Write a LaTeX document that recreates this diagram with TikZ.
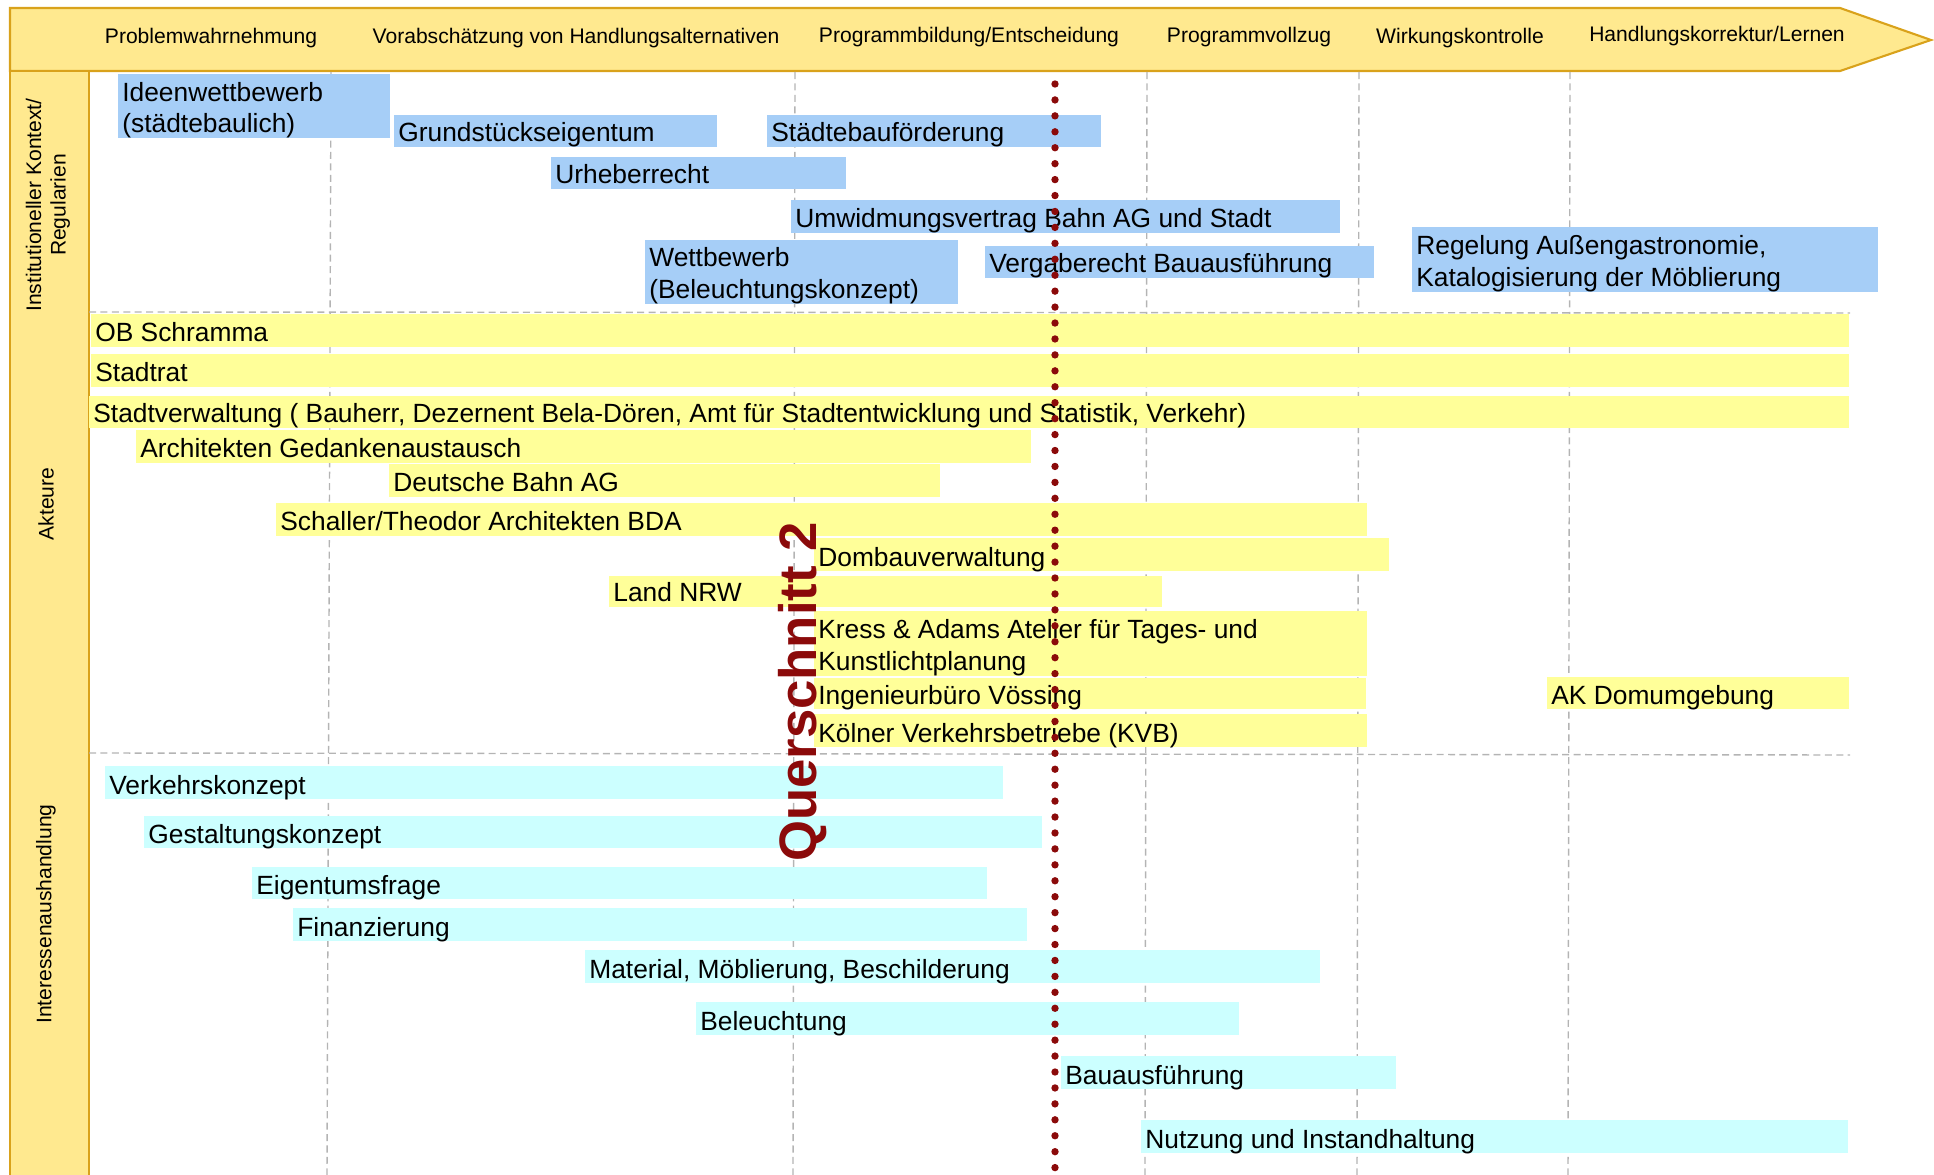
\documentclass[tikz,border=0pt]{standalone}
\usepackage{fontspec}
\setmainfont{Liberation Sans}
\usepackage{xcolor}
\usepackage{tikz}
\usetikzlibrary{positioning}

\definecolor{kopfgelb}{HTML}{FFE98F}
\definecolor{kopfrand}{HTML}{D9A21B}
\definecolor{regelblau}{HTML}{A6CEF7}
\definecolor{akteurgelb}{HTML}{FFFF99}
\definecolor{themacyan}{HTML}{CCFFFF}
\definecolor{schnittrot}{HTML}{8B0A0A}
\definecolor{rastergrau}{HTML}{B4B4B4}

\tikzset{
  kopf/.style={fill=kopfgelb, draw=kopfrand, line width=1.2pt},
  raster/.style={draw=rastergrau, line width=0.8pt, dash pattern=on 4pt off 2.5pt},
  phase/.style={font=\fontsize{12}{14}\selectfont, anchor=base, inner sep=0pt},
  ebene/.style={font=\fontsize{12}{14}\selectfont, rotate=90, align=center, inner sep=0pt},
  balkentext/.style={font=\fontsize{15}{18}\selectfont, inner sep=0pt, align=left},
  regel/.style={fill=regelblau},
  akteur/.style={fill=akteurgelb},
  thema/.style={fill=themacyan}
}

% one bar: name, style, x1, y1, x2, y2, text
\newcommand{\balken}[7]{%
  \fill[#2] (#3,#4) rectangle (#5,#6);
  \node[balkentext, anchor=base west] (#1) at ({#3+4},{#6-5}) {#7};}
% bar with two lines of text
\newcommand{\balkenzwei}[7]{%
  \fill[#2] (#3,#4) rectangle (#5,#6);
  \node[balkentext, anchor=west] (#1) at ({#3+4},{(#4+#6)/2+4}) {#7};}

\begin{document}
\begin{tikzpicture}[x=0.02cm, y=-0.02cm]
        \useasboundingbox (0,0) rectangle (1934,1175);

        % phases
        \draw[kopf] (10,8) -- (1840,8) -- (1931,40) -- (1840,71) -- (10,71) -- cycle;
        \draw[kopf] (10,71) rectangle (89,1190);

        \node[phase] (p1) at (211,44) {Problemwahrnehmung};
        \node[phase] (p2) at (576,44) {Vorabschätzung von Handlungsalternativen};
        \node[phase] (p3) at (969,43) {Programmbildung/Entscheidung};
        \node[phase] (p4) at (1249,43) {Programmvollzug};
        \node[phase] (p5) at (1460,44) {Wirkungskontrolle};
        \node[phase] (p6) at (1717,42) {Handlungskorrektur/Lernen};

        \node[ebene] (e1) at (48,205) {Institutioneller Kontext/\\Regularien};
        \node[ebene] (e2) at (46,504) {Akteure};
        \node[ebene] (e3) at (46,914) {Interessenaushandlung};

        % grid
        \draw[raster] (331,72) -- (327,1175);
        \draw[raster] (795,72) -- (793,1175);
        \draw[raster] (1147,72) -- (1145,1175);
        \draw[raster] (1359,72) -- (1357,1175);
        \draw[raster] (1570,72) -- (1568,1175);
        \draw[raster] (89,312) -- (1850,313);
        \draw[raster] (89,753) -- (1850,755);

        % Regularien
        \balkenzwei{ideen}{regel}{118}{74}{390}{138}{Ideenwettbewerb\\(städtebaulich)}
        \balken{grund}{regel}{394}{115}{717}{147}{Grundstückseigentum}
        \balken{foerder}{regel}{767}{115}{1101}{147}{Städtebauförderung}
        \balken{urheber}{regel}{551}{157}{846}{189}{Urheberrecht}
        \balken{umwidmung}{regel}{791}{200}{1340}{233}{Umwidmungsvertrag Bahn AG und Stadt}
        \balkenzwei{wettbewerb}{regel}{645}{240}{958}{304}{Wettbewerb\\(Beleuchtungskonzept)}
        \balken{vergabe}{regel}{985}{246}{1374}{278}{Vergaberecht Bauausführung}
        \balkenzwei{gastro}{regel}{1412}{227}{1878}{292}{Regelung Außengastronomie,\\Katalogisierung der Möblierung}

        % Akteure
        \balken{ob}{akteur}{91}{314}{1849}{347}{OB Schramma}
        \balken{stadtrat}{akteur}{91}{354}{1849}{387}{Stadtrat}
        \balken{verwaltung}{akteur}{89}{396}{1849}{428}{Stadtverwaltung ( Bauherr, Dezernent Bela-Dören, Amt für Stadtentwicklung und Statistik, Verkehr)}
        \balken{architekten}{akteur}{136}{430}{1031}{463}{Architekten Gedankenaustausch}
        \balken{bahn}{akteur}{389}{464}{940}{497}{Deutsche Bahn AG}
        \balken{schaller}{akteur}{276}{503}{1367}{536}{Schaller/Theodor Architekten BDA}
        \balken{dombau}{akteur}{814}{538}{1389}{571}{Dombauverwaltung}
        \balken{land}{akteur}{609}{576}{1162}{607}{Land NRW}
        \balkenzwei{kress}{akteur}{814}{611}{1367}{676}{Kress \& Adams Atelier für Tages- und\\Kunstlichtplanung}
        \balken{voessing}{akteur}{814}{678}{1366}{709}{Ingenieurbüro Vössing}
        \balken{akdom}{akteur}{1547}{677}{1849}{709}{AK Domumgebung}
        \balken{kvb}{akteur}{814}{714}{1367}{747}{Kölner Verkehrsbetriebe (KVB)}

        % Interessen
        \balken{verkehr}{thema}{105}{766}{1003}{799}{Verkehrskonzept}
        \balken{gestaltung}{thema}{144}{816}{1042}{848}{Gestaltungskonzept}
        \balken{eigentum}{thema}{252}{867}{987}{899}{Eigentumsfrage}
        \balken{finanz}{thema}{293}{908}{1027}{941}{Finanzierung}
        \balken{material}{thema}{585}{950}{1320}{983}{Material, Möblierung, Beschilderung}
        \balken{beleuchtung}{thema}{696}{1002}{1239}{1035}{Beleuchtung}
        \balken{bau}{thema}{1061}{1056}{1396}{1089}{Bauausführung}
        \balken{nutzung}{thema}{1141}{1120}{1848}{1153}{Nutzung und Instandhaltung}

        % Querschnitt
        \coordinate (qoben) at (1055,84);
        \coordinate (qunten) at (1055,1190);
        \draw[schnittrot, line width=4.2pt, line cap=round, dash pattern=on 0pt off 9.07pt] (qoben) -- (qunten);
        \node[rotate=90, text=schnittrot, font=\bfseries\fontsize{30}{36}\selectfont, inner sep=0pt] (schnitt) at (803,692) {Querschnitt 2};
    \end{tikzpicture}
\end{document}
